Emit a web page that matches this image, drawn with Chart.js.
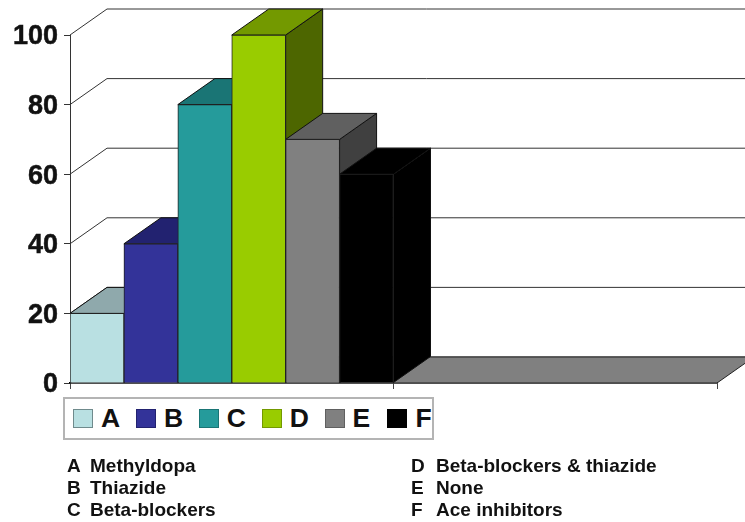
<!DOCTYPE html>
<html>
<head>
<meta charset="utf-8">
<script src="https://cdn.jsdelivr.net/npm/chart.js@4"></script>
<style>
html, body { margin: 0; padding: 0; background: #fff; }
#wrap { position: relative; width: 745px; height: 522px; overflow: hidden; font-family: "Liberation Sans", Arial, sans-serif; color: #111; filter: blur(0.45px); background: #fff; }
#chart { position: absolute; left: 0; top: 0; }
#legend { position: absolute; left: 63px; top: 397px; width: 371px; height: 43px; box-sizing: border-box; border: 2px solid #b4b4b4; display: flex; padding-left: 8px; align-items: center; background: #fff; }
#legend div { width: 62.9px; flex: none; display: flex; align-items: center; font-size: 26.5px; font-weight: bold; }
#legend i { display: block; width: 18px; height: 17px; border: 1px solid #444; margin-right: 8px; flex: none; }
.cap { position: absolute; font-size: 19px; font-weight: bold; white-space: nowrap; line-height: 22px; }
.cap b { display: inline-block; }
</style>
</head>
<body>
<div id="wrap">
  <canvas id="chart" width="745" height="522"></canvas>
  <div id="legend"></div>
</div>
<script>
const categories = ['', '']
const series_names = ['A', 'B', 'C', 'D', 'E', 'F']
const series_values = [20, 40, 80, 100, 70, 60]
const drug_names = ['Methyldopa', 'Thiazide', 'Beta-blockers', 'Beta-blockers & thiazide', 'None', 'Ace inhibitors']
const y_ticks = [0, 20, 40, 60, 80, 100]

const front_colors = ['#b9e0e2', '#333399', '#259b9b', '#99cc00', '#808080', '#000000']
const top_colors = ['#8fa9ac', '#222270', '#1a7575', '#739900', '#606060', '#000000']
const side_colors = ['#6f8a8c', '#1a1a55', '#125a5a', '#4d6600', '#404040', '#000000']

const depth_x = 37
const depth_y = -26

function polygon(ctx, points, fill, stroke) {
    ctx.beginPath()
    ctx.moveTo(points[0][0], points[0][1])
    for (let i = 1; i < points.length; i++) {
        ctx.lineTo(points[i][0], points[i][1])
    }
    ctx.closePath()
    ctx.fillStyle = fill
    ctx.fill()
    ctx.strokeStyle = stroke
    ctx.lineWidth = 1
    ctx.stroke()
}

// back wall, floor and the depth faces of the bars, the fronts are normal chart bars
const depth_plugin = {
    id: 'depth',
    afterLayout(chart) {
        // digits sit a bit high on the middle baseline
        chart.scales.y.getLabelItems(chart.chartArea).forEach(function (item) {
            item.options.translation[1] += 2
        })
    },
    beforeDatasetsDraw(chart) {
        const ctx = chart.ctx
        const area = chart.chartArea
        const y_scale = chart.scales.y

        ctx.save()
        ctx.strokeStyle = '#333'
        ctx.lineWidth = 1
        y_ticks.forEach(function (tick) {
            const py = y_scale.getPixelForValue(tick)
            ctx.beginPath()
            ctx.moveTo(area.left, py)
            ctx.lineTo(area.left + depth_x, py + depth_y)
            ctx.lineTo(chart.width + 5, py + depth_y)
            ctx.stroke()
        })

        const base = y_scale.getPixelForValue(0)
        polygon(ctx, [
            [area.left, base],
            [area.right, base],
            [area.right + depth_x, base + depth_y],
            [area.left + depth_x, base + depth_y]
        ], '#808080', '#222')

        series_values.forEach(function (value, i) {
            const bar = chart.getDatasetMeta(i).data[0].getProps(['x', 'y', 'base', 'width'], true)
            const left = bar.x - bar.width / 2
            const right = bar.x + bar.width / 2
            polygon(ctx, [
                [right, bar.y],
                [right + depth_x, bar.y + depth_y],
                [right + depth_x, bar.base + depth_y],
                [right, bar.base]
            ], side_colors[i], '#111')
            polygon(ctx, [
                [left, bar.y],
                [left + depth_x, bar.y + depth_y],
                [right + depth_x, bar.y + depth_y],
                [right, bar.y]
            ], top_colors[i], '#111')
        })
        ctx.restore()
    }
}

let datasets = series_names.map(function (name, i) {
    return {
        label: name,
        data: [series_values[i], null],
        backgroundColor: front_colors[i],
        borderColor: '#222',
        borderWidth: 1,
        categoryPercentage: 1,
        barPercentage: 1
    }
})

let my_chart = new Chart(document.getElementById('chart'), {
    type: 'bar',
    data: { labels: categories, datasets: datasets },
    plugins: [depth_plugin],
    options: {
        responsive: false,
        animation: false,
        layout: { padding: { top: 35, right: 28, bottom: 129, left: 0 } },
        plugins: { legend: { display: false }, tooltip: { enabled: false } },
        scales: {
            x: {
                grid: { drawOnChartArea: false, color: '#444', tickLength: 6 },
                border: { color: '#000', width: 1.5 },
                ticks: { display: false },
                afterFit: function (scale) { scale.height = 10 }
            },
            y: {
                min: 0,
                max: 100,
                afterBuildTicks: function (scale) {
                    scale.ticks = y_ticks.map(function (v) { return { value: v } })
                },
                grid: { drawOnChartArea: false, color: '#333', tickLength: 6 },
                border: { color: '#333', width: 1 },
                ticks: {
                    color: '#111',
                    padding: 6,
                    textStrokeColor: '#111',
                    textStrokeWidth: 0.5,
                    font: { family: '"Liberation Sans"', size: 27, weight: 'bold' }
                },
                afterFit: function (scale) { scale.width = 70 }
            }
        }
    }
})

// legend box
const legend_box = document.getElementById('legend')
series_names.forEach(function (name, i) {
    const item = document.createElement('div')
    const swatch = document.createElement('i')
    swatch.style.background = front_colors[i]
    swatch.style.borderColor = i === 0 ? '#6f8a8c' : top_colors[i]
    item.appendChild(swatch)
    item.appendChild(document.createTextNode(name))
    legend_box.appendChild(item)
})

// key under the legend, two columns of three
const wrap = document.getElementById('wrap')
series_names.forEach(function (name, i) {
    const cap = document.createElement('div')
    cap.className = 'cap'
    cap.style.left = (i < 3 ? 67 : 411) + 'px'
    cap.style.top = (455 + (i % 3) * 22) + 'px'
    const letter = document.createElement('b')
    letter.style.width = (i < 3 ? 23 : 25) + 'px'
    letter.textContent = name
    cap.appendChild(letter)
    cap.appendChild(document.createTextNode(drug_names[i]))
    wrap.appendChild(cap)
})
</script>
</body>
</html>
